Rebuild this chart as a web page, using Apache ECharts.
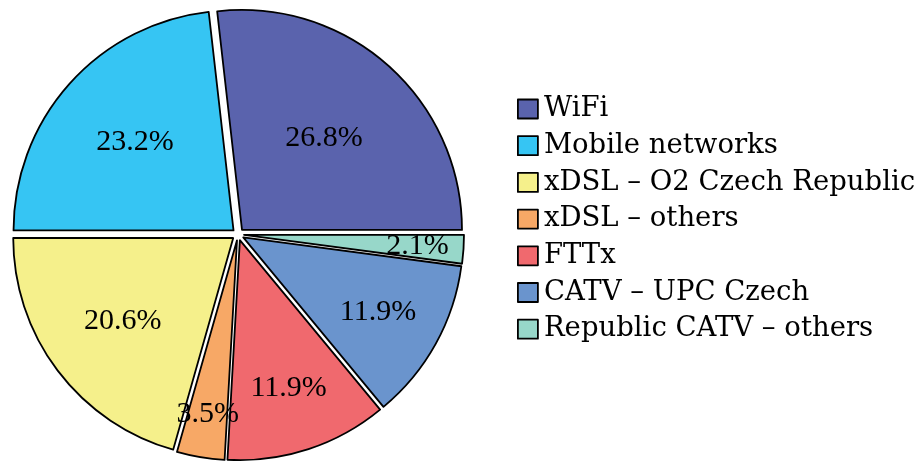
<!DOCTYPE html>
<html><head><meta charset="utf-8">
<script src="https://cdn.jsdelivr.net/npm/echarts@6/dist/echarts.min.js"></script>
<style>html,body{margin:0;background:#fff}#c{width:923px;height:463px}</style>
</head><body><div id="c"></div>
<script>
const categories = ['WiFi', 'Mobile networks', 'xDSL \u2013 O2 Czech Republic', 'xDSL \u2013 others', 'FTTx', 'CATV \u2013 UPC Czech', 'Republic CATV \u2013 others'];
const shares = [26.8, 23.2, 20.6, 3.5, 11.9, 11.9, 2.1];
const colors = ['#5A63AD', '#36C5F3', '#F5F08B', '#F7A866', '#F0696E', '#6A94CD', '#97D7C9'];
const labelDist = [0.56, 0.60, 0.63, 0.80, 0.71, 0.70, 0.79];

const CX = 238, CY = 234.4, R = 220, OFF = 6, START = 0;
const total = shares.reduce((a, b) => a + b, 0);

// percentage labels placed along each slice's bisector (angles derived from the data)
const labelGraphics = [];
let cum = 0;
shares.forEach((v, i) => {
  const mid = (START + (cum + v / 2) / total * 360) * Math.PI / 180;
  cum += v;
  const d = labelDist[i] * R + OFF;
  labelGraphics.push({
    type: 'text',
    silent: true,
    z: 100,
    style: {
      text: v.toFixed(1) + '%',
      x: CX + d * Math.cos(mid),
      y: CY - d * Math.sin(mid),
      align: 'center',
      verticalAlign: 'middle',
      font: '30px "Liberation Serif"',
      fill: '#000'
    }
  });
});

const chart = echarts.init(document.getElementById('c'), null, {renderer: 'canvas'});
chart.setOption({
  animation: false,
  backgroundColor: '#fff',
  color: colors,
  legend: {
    orient: 'vertical',
    left: 512,
    top: 90,
    itemWidth: 20,
    itemHeight: 19,
    itemGap: 8.7,
    icon: 'rect',
    itemStyle: {borderColor: '#000', borderWidth: 1.8},
    textStyle: {fontFamily: 'DejaVu Serif', fontSize: 27.5, lineHeight: 27, color: '#000', padding: [0, 0, 0, 1]},
    data: categories
  },
  graphic: labelGraphics,
  series: [{
    type: 'pie',
    center: [CX, CY],
    radius: R,
    startAngle: START,
    clockwise: false,
    selectedMode: 'multiple',
    selectedOffset: OFF,
    avoidLabelOverlap: false,
    itemStyle: {borderColor: '#000', borderWidth: 1.8},
    label: {show: false},
    labelLine: {show: false},
    emphasis: {disabled: true},
    data: categories.map((n, i) => ({name: n, value: shares[i], selected: true}))
  }]
});
</script></body></html>
